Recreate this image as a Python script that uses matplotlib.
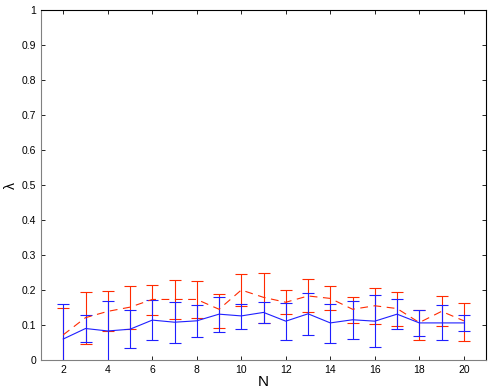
import matplotlib.pyplot as plt
import numpy as np

# Data
N = list(range(2, 21))

blue_mean = [0.060, 0.090, 0.083, 0.088, 0.114, 0.108, 0.112, 0.131, 0.126, 0.136,
             0.111, 0.132, 0.106, 0.115, 0.111, 0.131, 0.106, 0.106, 0.106]
blue_low = [-0.040, 0.051, -0.003, 0.033, 0.056, 0.050, 0.066, 0.080, 0.090, 0.107,
            0.058, 0.072, 0.049, 0.061, 0.038, 0.088, 0.069, 0.058, 0.082]
blue_high = [0.159, 0.130, 0.169, 0.144, 0.172, 0.165, 0.158, 0.181, 0.161, 0.167,
             0.164, 0.191, 0.161, 0.169, 0.185, 0.175, 0.143, 0.158, 0.128]

red_mean = [0.072, 0.121, 0.139, 0.151, 0.173, 0.173, 0.173, 0.145, 0.200, 0.179,
            0.165, 0.183, 0.176, 0.145, 0.155, 0.147, 0.107, 0.139, 0.112]
red_low = [-0.005, 0.047, 0.082, 0.090, 0.130, 0.117, 0.121, 0.092, 0.154, 0.107,
           0.131, 0.136, 0.142, 0.106, 0.103, 0.096, 0.058, 0.096, 0.055]
red_high = [0.149, 0.195, 0.196, 0.212, 0.214, 0.230, 0.225, 0.189, 0.246, 0.249,
            0.200, 0.231, 0.212, 0.181, 0.206, 0.195, 0.143, 0.184, 0.163]

blue_mean = np.array(blue_mean)
red_mean = np.array(red_mean)
blue_err = [blue_mean - np.array(blue_low), np.array(blue_high) - blue_mean]
red_err = [red_mean - np.array(red_low), np.array(red_high) - red_mean]

plt.rcParams['font.family'] = ['Liberation Sans', 'DejaVu Sans']

fig = plt.figure(figsize=(4.91, 3.92), dpi=100)
ax = fig.add_axes([0.0835, 0.0816, 0.9065, 0.8929])

red_line, _, _ = ax.errorbar(N, red_mean, yerr=red_err, color='#ff2a00', ls='--', lw=0.8,
                             capsize=4, capthick=0.8, elinewidth=0.8)
red_line.set_dashes((7, 5))
ax.errorbar(N, blue_mean, yerr=blue_err, color='#1f1fff', ls='-', lw=0.8,
            capsize=4, capthick=0.8, elinewidth=0.8)

ax.set_xlim(1, 21)
ax.set_ylim(0, 1)
ax.set_xticks(range(2, 21, 2))
ax.set_yticks(np.arange(0, 1.01, 0.1))
ax.set_yticklabels(['0', '0.1', '0.2', '0.3', '0.4', '0.5', '0.6', '0.7', '0.8', '0.9', '1'])
ax.tick_params(direction='in', top=True, right=True, labelsize=7.5, length=3, width=0.6)

for side in ['left', 'bottom']:
    ax.spines[side].set_color('#808080')
for sp in ax.spines.values():
    sp.set_linewidth(0.8)

ax.set_xlabel('N', fontsize=11, labelpad=0)
ax.set_ylabel('λ', fontsize=10, labelpad=3)

fig.savefig('out.png', dpi=100)
